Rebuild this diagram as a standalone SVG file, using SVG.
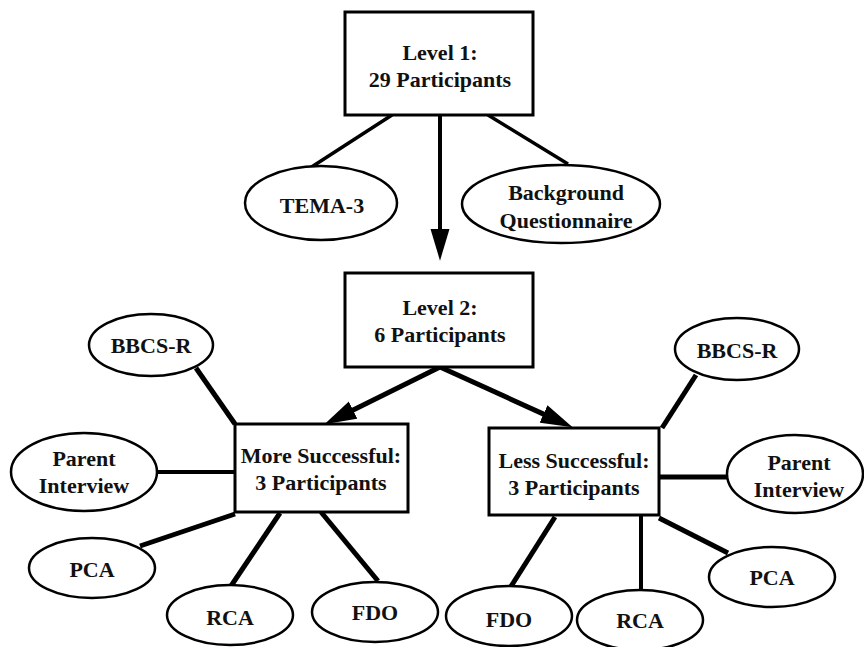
<svg xmlns="http://www.w3.org/2000/svg" width="864" height="647" viewBox="0 0 864 647">
<style>
.box{fill:#fff;stroke:#000;stroke-width:3}
.ell{fill:#fff;stroke:#000;stroke-width:2.5}
.t{font-weight:bold;font-size:22px;fill:#111;text-anchor:middle}
.c{stroke:#000;fill:none;stroke-linecap:butt}
</style>
<defs>
<marker id="ah" markerUnits="userSpaceOnUse" markerWidth="32" markerHeight="20" refX="20" refY="9" orient="auto" viewBox="0 0 30 18">
<path d="M0,0 L30,9 L0,18 z" fill="#000"/>
</marker>
</defs>
<g id="connectors">
<line class="c" x1="392" y1="115" x2="310" y2="168" stroke-width="3.5"/>
<line class="c" x1="488" y1="115" x2="568" y2="164" stroke-width="3.5"/>
<line class="c" x1="440" y1="115" x2="440" y2="250" stroke-width="4" marker-end="url(#ah)"/>
<line class="c" x1="440" y1="367" x2="334" y2="419.6" stroke-width="5" marker-end="url(#ah)"/>
<line class="c" x1="440" y1="367" x2="562.9" y2="422.9" stroke-width="5" marker-end="url(#ah)"/>
<line class="c" x1="196" y1="368" x2="235" y2="424" stroke-width="5"/>
<line class="c" x1="157" y1="472" x2="235" y2="472" stroke-width="4"/>
<line class="c" x1="140" y1="546" x2="235" y2="514" stroke-width="5"/>
<line class="c" x1="231" y1="586" x2="280" y2="513" stroke-width="5"/>
<line class="c" x1="378" y1="581" x2="321" y2="512" stroke-width="5"/>
<line class="c" x1="696" y1="375" x2="662" y2="428" stroke-width="5"/>
<line class="c" x1="659" y1="477" x2="727" y2="477" stroke-width="5"/>
<line class="c" x1="659" y1="518" x2="728" y2="553" stroke-width="5"/>
<line class="c" x1="641" y1="515" x2="641" y2="590" stroke-width="4"/>
<line class="c" x1="555" y1="517" x2="510" y2="588" stroke-width="5"/>
</g>
<g font-family="'Liberation Serif', 'DejaVu Serif', serif">
<g id="level1">
<rect class="box" x="345" y="12" width="188" height="103"/>
<text class="t" x="440" y="60">Level 1:</text>
<text class="t" x="440" y="87">29 Participants</text>
</g>
<g id="tema3">
<ellipse class="ell" cx="321" cy="203" rx="76" ry="37"/>
<text class="t" x="322" y="213">TEMA-3</text>
</g>
<g id="background">
<ellipse class="ell" cx="561" cy="204" rx="99" ry="39"/>
<text class="t" x="566" y="200">Background</text>
<text class="t" x="566" y="228">Questionnaire</text>
</g>
<g id="level2">
<rect class="box" x="345" y="273" width="188" height="94"/>
<text class="t" x="440" y="315">Level 2:</text>
<text class="t" x="440" y="342">6 Participants</text>
</g>
<g id="more">
<rect class="box" x="235" y="424" width="173" height="88"/>
<text class="t" x="321" y="463">More Successful:</text>
<text class="t" x="321" y="490">3 Participants</text>
</g>
<g id="less">
<rect class="box" x="489" y="428" width="170" height="87"/>
<text class="t" x="574" y="468">Less Successful:</text>
<text class="t" x="574" y="495">3 Participants</text>
</g>
<g id="bbcs-left">
<ellipse class="ell" cx="151" cy="345" rx="62" ry="31"/>
<text class="t" x="151" y="353">BBCS-R</text>
</g>
<g id="parent-left">
<ellipse class="ell" cx="84" cy="472" rx="73" ry="39"/>
<text class="t" x="84" y="466">Parent</text>
<text class="t" x="84" y="493">Interview</text>
</g>
<g id="pca-left">
<ellipse class="ell" cx="92" cy="568" rx="63" ry="30"/>
<text class="t" x="92" y="577">PCA</text>
</g>
<g id="rca-left">
<ellipse class="ell" cx="230" cy="615" rx="63" ry="30"/>
<text class="t" x="230" y="625">RCA</text>
</g>
<g id="fdo-left">
<ellipse class="ell" cx="375" cy="612" rx="63" ry="30"/>
<text class="t" x="375" y="620">FDO</text>
</g>
<g id="bbcs-right">
<ellipse class="ell" cx="737" cy="349" rx="62" ry="31"/>
<text class="t" x="737" y="358">BBCS-R</text>
</g>
<g id="parent-right">
<ellipse class="ell" cx="795" cy="474" rx="68" ry="39"/>
<text class="t" x="799" y="470">Parent</text>
<text class="t" x="799" y="497">Interview</text>
</g>
<g id="pca-right">
<ellipse class="ell" cx="772" cy="577" rx="63" ry="30"/>
<text class="t" x="772" y="585">PCA</text>
</g>
<g id="rca-right">
<ellipse class="ell" cx="640" cy="620" rx="63" ry="30"/>
<text class="t" x="640" y="628">RCA</text>
</g>
<g id="fdo-right">
<ellipse class="ell" cx="509" cy="616" rx="63" ry="30"/>
<text class="t" x="509" y="627">FDO</text>
</g>
</g>
</svg>
